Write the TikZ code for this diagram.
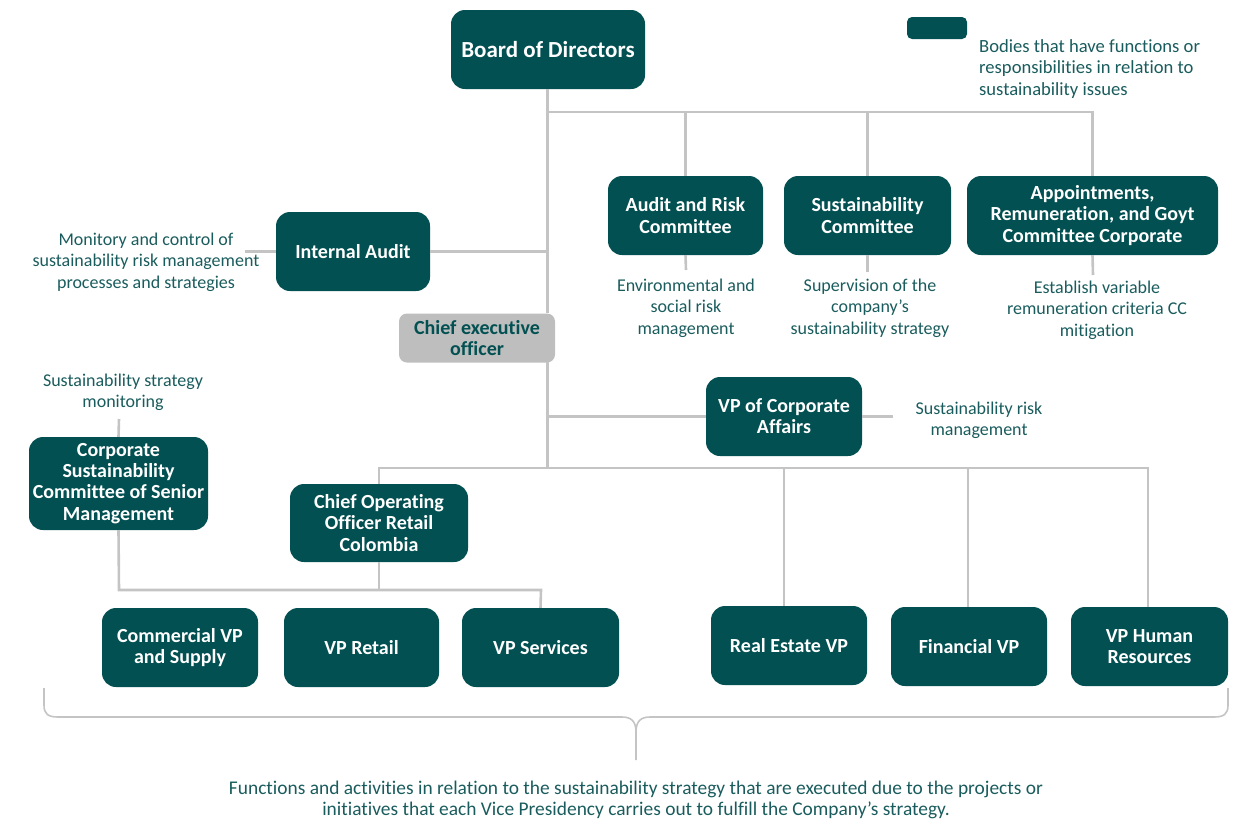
\documentclass[tikz,border=0pt]{standalone}
\usepackage{fontspec}
\setmainfont{Carlito}[Ligatures=NoCommon]
\definecolor{dk}{HTML}{025052}
\definecolor{lbl}{HTML}{1A5C5D}
\definecolor{ln}{HTML}{C4C4C4}
\definecolor{cg}{HTML}{BEBEBE}
\begin{document}
\begin{tikzpicture}[x=1pt,y=-1pt,
  box/.style={fill=dk, rounded corners=14pt, text=white, align=center, inner sep=0pt,
    font=\bfseries\fontsize{20}{21.2}\selectfont},
  lab/.style={text=lbl, align=center, inner sep=0pt, font=\fontsize{18}{21.3}\selectfont},
  conn/.style={draw=ln, line width=2.6pt},
  brace/.style={draw=ln, line width=1.6pt}]
\useasboundingbox (0,0) rectangle (1234,825);

% nodes
\node[box, minimum width=194, minimum height=79, font=\bfseries\fontsize{23}{24}\selectfont] (board) at (548,49.5) {Board of Directors};
\node[fill=dk, rounded corners=5pt, minimum width=60, minimum height=22, inner sep=0pt] (legbox) at (937,28) {};
\node[lab, align=left, anchor=west, font=\fontsize{18.6}{21.5}\selectfont] (legtxt) at (979,69) {Bodies that have functions or\\responsibilities in relation to\\sustainability issues};

\node[box, minimum width=154, minimum height=79] (ia) at (353,251.5) {Internal Audit};
\node[lab] (ialbl) at (146,262) {Monitory and control of\\sustainability risk management\\processes and strategies};

\node[fill=cg, rounded corners=8pt, minimum width=156, minimum height=49, inner sep=0pt, align=center,
  text=dk, font=\bfseries\fontsize{20}{21.2}\selectfont] (ceo) at (477,338) {Chief executive\\officer};

\node[box, minimum width=155, minimum height=79] (arc) at (685.5,215.5) {Audit and Risk\\Committee};
\node[box, minimum width=167, minimum height=79] (sc) at (867.5,215.5) {Sustainability\\Committee};
\node[box, minimum width=251, minimum height=79] (appt) at (1092.5,215.5) {Appointments,\\Remuneration, and Goyt\\Committee Corporate};

\node[lab] (arclbl) at (686,308) {Environmental and\\social risk\\management};
\node[lab] (sclbl) at (870,308) {Supervision of the\\company’s\\sustainability strategy};
\node[lab] (apptlbl) at (1097,310) {Establish variable\\remuneration criteria CC\\mitigation};

\node[box, minimum width=156, minimum height=79] (vpca) at (784,416.5) {VP of Corporate\\Affairs};
\node[lab] (vpcalbl) at (979,420) {Sustainability risk\\management};

\node[box, minimum width=179, minimum height=93] (cs) at (118.5,483.5) {Corporate\\Sustainability\\Committee of Senior\\Management};
\node[lab] (cslbl) at (123,392) {Sustainability strategy\\monitoring};

\node[box, minimum width=178, minimum height=78] (coo) at (379,523) {Chief Operating\\Officer Retail\\Colombia};

\node[box, minimum width=156, minimum height=79] (com) at (180,647.5) {Commercial VP\\and Supply};
\node[box, minimum width=155, minimum height=79] (ret) at (361.5,647.5) {VP Retail};
\node[box, minimum width=157, minimum height=79] (svc) at (540.5,647.5) {VP Services};
\node[box, minimum width=156, minimum height=79] (re) at (789,645.5) {Real Estate VP};
\node[box, minimum width=156, minimum height=79] (fin) at (969,646.5) {Financial VP};
\node[box, minimum width=157, minimum height=79] (hr) at (1149.5,646.5) {VP Human\\Resources};

\node[lab, font=\fontsize{19.4}{21}\selectfont] (foot) at (636,800) {Functions and activities in relation to the sustainability strategy that are executed due to the projects or\\initiatives that each Vice Presidency carries out to fulfill the Company’s strategy.};

% junction coordinates
\coordinate (bus1) at (547.5,112);
\coordinate (iaj) at (547.5,251.5);
\coordinate (ceotop) at (547.5,313);
\coordinate (ceobot) at (547.5,362);
\coordinate (vpj) at (547.5,416.5);
\coordinate (bus2) at (547.5,468);
\coordinate (arcend) at (686,270);
\coordinate (scend) at (867.5,272);
\coordinate (apptend) at (1093,275);
\coordinate (iaend) at (245,251.5);
\coordinate (vpcaend) at (893,416.5);
\coordinate (csend) at (119,419);
\coordinate (bus3) at (119,590);
\coordinate (coobus) at (379,590);
\coordinate (svcbus) at (541,590);

% connectors
\path[conn] (board.south -| bus1) -- (ceotop);
\path[conn] (bus1) -| (arc.north);
\path[conn] (bus1) -| (sc.north);
\path[conn] (bus1) -| (appt.north);
\path[conn] (ia.east) -- (iaj);
\path[conn] (iaend) -- (ia.west);
\path[conn] (arc.south) -- (arcend);
\path[conn] (sc.south) -- (scend);
\path[conn] (appt.south) -- (apptend);
\path[conn] (ceobot) -- (bus2);
\path[conn] (vpj) -- (vpca.west);
\path[conn] (vpca.east) -- (vpcaend);
\path[conn] (bus2) -| (coo.north);
\path[conn] (bus2) -| ([xshift=-5pt]re.north);
\path[conn] (bus2) -| ([xshift=-1pt]fin.north);
\path[conn] (bus2) -| ([xshift=-1.5pt]hr.north);
\path[conn] (cs.north) -- (csend);
\path[conn] (cs.south) -- (bus3) -- (svcbus) -- (svc.north);
\path[conn] (coo.south) -- (coobus);

% brace
\coordinate (bl) at (44,688);
\coordinate (br) at (1228,688);
\coordinate (btip) at (636,760);
\path[brace] (bl) -- (44,705) .. controls (44,714) and (48,717) .. (58,717) -- (622,717)
  .. controls (631,717) and (636,721) .. (636,732) -- (btip);
\path[brace] (br) -- (1228,705) .. controls (1228,714) and (1224,717) .. (1214,717) -- (650,717)
  .. controls (641,717) and (636,721) .. (636,732);
\end{tikzpicture}
\end{document}
